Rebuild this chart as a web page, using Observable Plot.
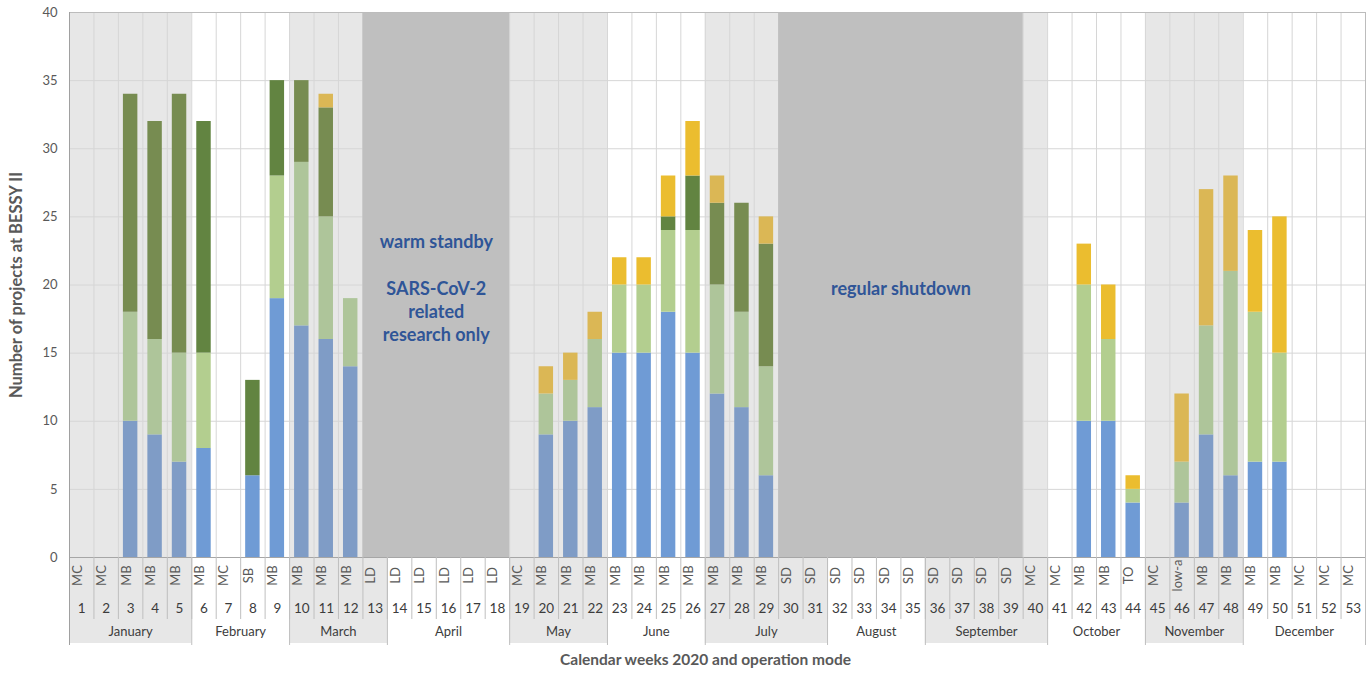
<!DOCTYPE html>
<html><head><meta charset="utf-8">
<script src="https://cdn.jsdelivr.net/npm/d3@7"></script>
<script src="https://cdn.jsdelivr.net/npm/@observablehq/plot@0.6"></script>
<style>body{margin:0;background:#fff;}</style>
</head><body><div id="chart"></div>
<script>
// ---- data ----
const weeks = d3.range(1, 54);
const modes = ["MC","MC","MB","MB","MB","MB","MC","SB","MB","MB","MB","MB","LD","LD","LD","LD","LD","LD","MC","MB","MB","MB","MB","MB","MB","MB","MB","MB","MB","SD","SD","SD","SD","SD","SD","SD","SD","SD","SD","MC","MC","MB","MB","TO","MC","low-a","MB","MB","MB","MB","MC","MC","MC"];
const months = ["January","February","March","April","May","June","July","August","September","October","November","December"];
const monthFirst = [1,6,10,14,19,23,27,32,36,41,45,49];
const monthLast  = [5,9,13,18,22,26,31,35,40,44,48,53];
const closureLabels = ["warm standby\n\nSARS-CoV-2\nrelated\nresearch only", "regular shutdown"];
const closureFirst = [13, 30];
const closureLast = [18, 39];
const seriesNames = ["blue","lightGreen","darkGreen","yellow"];
const blue       = [0,0,10,9,7,8,0,6,19,17,16,14, 0,0,0,0,0,0,0, 9,10,11,15,15,18,15,12,11,6, 0,0,0,0,0,0,0,0,0,0,0,0, 10,10,4, 0, 4,9,6,7,7, 0,0,0];
const lightGreen = [0,0,8,7,8,7,0,0,9,12,9,5,   0,0,0,0,0,0,0, 3,3,5,5,5,6,9,8,7,8,         0,0,0,0,0,0,0,0,0,0,0,0, 10,6,1,  0, 3,8,15,11,8, 0,0,0];
const darkGreen  = [0,0,16,16,19,17,0,7,7,6,8,0, 0,0,0,0,0,0,0, 0,0,0,0,0,1,4,6,8,9,          0,0,0,0,0,0,0,0,0,0,0,0, 0,0,0,    0, 0,0,0,0,0,   0,0,0];
const yellow     = [0,0,0,0,0,0,0,0,0,0,1,0,     0,0,0,0,0,0,0, 2,2,2,2,2,3,4,2,0,2,          0,0,0,0,0,0,0,0,0,0,0,0, 3,4,1,    0, 5,10,7,6,10, 0,0,0];
const yTicks = [0,5,10,15,20,25,30,35,40];
const yTitle = "Number of projects at BESSY II";
const xTitle = "Calendar weeks 2020 and operation mode";

// ---- styles ----
const vivid = ["#6f9bd5","#b3ce8f","#628441","#ebbd2f"];
const muted = ["#7f9cc6","#aec59a","#778c51","#dbb755"];
const txt = "#595959";

// ---- derived tables ----
const seriesValues = [blue, lightGreen, darkGreen, yellow];
const monthRows = months.map((m, i) => ({name: m, first: monthFirst[i], last: monthLast[i], shaded: i % 2 === 0}));
const shadedWeek = new Set();
monthRows.forEach(d => { if (d.shaded) for (let w = d.first; w <= d.last; w++) shadedWeek.add(w); });
const bars = [];
weeks.forEach((w, i) => seriesValues.forEach((vals, s) => {
  if (vals[i] > 0) bars.push({week: w, series: seriesNames[s], value: vals[i], fill: shadedWeek.has(w) ? muted[s] : vivid[s]});
}));
const closureRows = closureLabels.map((l, i) => ({label: l, first: closureFirst[i], last: closureLast[i]}));
const weekEdges = [weeks[0] - 0.5, ...weeks.map(w => w + 0.5)];
const monthEdges = [...monthFirst.map(f => f - 0.5), monthLast[monthLast.length - 1] + 0.5];
const gridY = yTicks.filter(t => t > 0 && t < 40);

const plot = Plot.plot({
  width: 1371, height: 677,
  marginLeft: 69, marginRight: 6, marginTop: 12, marginBottom: 120,
  style: {fontFamily: "Lato, 'Open Sans', sans-serif", background: "#fff", overflow: "visible"},
  x: {domain: [0.5, 53.5], axis: null},
  y: {domain: [0, 40], axis: null},
  marks: [
    Plot.rect(monthRows.filter(d => d.shaded), {x1: d => d.first - 0.5, x2: d => d.last + 0.5, y1: 0, y2: 40, insetBottom: -86, fill: "#e7e7e7"}),
    Plot.ruleX(weekEdges, {x: d => d, y1: 40, y2: 0, stroke: "#d6d6d6"}),
    Plot.ruleY(gridY, {y: d => d, stroke: "#d6d6d6"}),
    Plot.rect(closureRows, {x1: d => d.first - 0.5, x2: d => d.last + 0.5, y1: 0, y2: 40, fill: "#bfbfbf"}),
    Plot.ruleY([40], {stroke: "#bcbcbc"}),
    Plot.ruleX([53.5], {y1: 40, y2: 0, stroke: "#bcbcbc"}),
    Plot.rectY(bars, {x1: d => d.week - 0.5, x2: d => d.week + 0.5, y: "value", fill: "fill", insetLeft: 5, insetRight: 5}),
    Plot.ruleY([0], {stroke: "#a6a6a6"}),
    Plot.ruleX(weekEdges, {x: d => d, y1: 0, y2: 0, insetBottom: -62, stroke: "#bfbfbf"}),
    Plot.ruleX(monthEdges, {x: d => d, y1: 0, y2: 0, insetBottom: -88, stroke: "#bfbfbf"}),
    Plot.ruleX([0.5], {y1: 40, y2: 0, insetBottom: -88, stroke: "#a0a0a0"}),
    Plot.text(closureRows, {x: d => (d.first + d.last) / 2, text: d => d.label, frameAnchor: "middle", dy: 2, fontSize: 18, fontWeight: "bold", fill: "#2f5597", lineHeight: 1.3}),
    Plot.text(yTicks, {y: d => d, text: d => String(d), frameAnchor: "left", dx: -12, textAnchor: "end", fontSize: 13, fill: txt}),
    Plot.text([yTitle], {frameAnchor: "left", dx: -53, rotate: -90, textAnchor: "middle", fontSize: 16.5, fontWeight: "bold", fill: txt}),
    Plot.text(weeks, {x: d => d, text: (d, i) => modes[i], frameAnchor: "bottom", dy: 18, rotate: -90, fontSize: 13, fill: txt}),
    Plot.text(weeks, {x: d => d, text: d => String(d), frameAnchor: "bottom", dy: 55, fontSize: 13.5, fill: "#3c3c3c"}),
    Plot.text(monthRows, {x: d => (d.first + d.last) / 2, text: "name", frameAnchor: "bottom", dy: 78, fontSize: 13, fill: "#3c3c3c"}),
    Plot.text([xTitle], {frameAnchor: "bottom", dx: -12, dy: 107, fontSize: 15.5, fontWeight: "bold", fill: txt})
  ]
});
document.getElementById("chart").appendChild(plot);
</script>
</body></html>
